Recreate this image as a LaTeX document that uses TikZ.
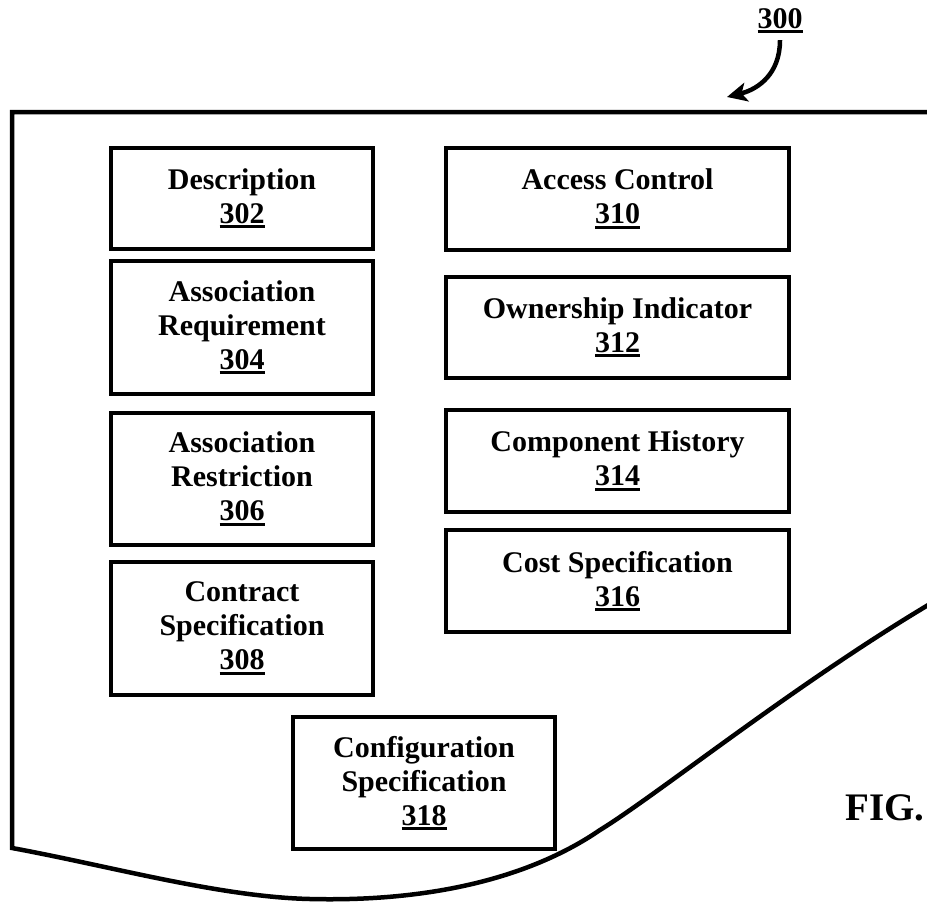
\documentclass[tikz,border=0pt]{standalone}
\usepackage{fontspec}
\setmainfont{Liberation Serif}
\usetikzlibrary{arrows.meta}

% underlined reference numeral
\newcommand{\refno}[1]{\setbox0=\hbox{#1}\rlap{\rule[-5pt]{\wd0}{3pt}}\box0}

\begin{document}
\begin{tikzpicture}[x=1pt, y=-1pt,
  blk/.style={draw, line width=4pt, align=center, inner sep=0pt,
    font=\fontsize{30}{34}\selectfont\bfseries},
  lcol/.style={blk, minimum width=262pt},
  rcol/.style={blk, minimum width=343pt},
  outline/.style={line width=4.5pt, line join=miter},
  refarrow/.style={line width=4.5pt, -{Stealth[length=20pt, width=19pt, inset=5pt]}},
  numlabel/.style={inner sep=0pt, font=\fontsize{30}{34}\selectfont\bfseries},
  figlabel/.style={inner sep=0pt, font=\fontsize{39}{44}\selectfont\bfseries}]

\useasboundingbox (0,0) rectangle (927,902);
\fill[white] (0,0) rectangle (927,902);

% torn-page frame
\draw[outline] (940,112) -- (12,112) -- (12,848)
  .. controls (110,866) and (220,897) .. (310,899)
  .. controls (430,902) and (530,878) .. (600,830)
  .. controls (660,793) and (800,680) .. (940,598);

% left column
\node[lcol, minimum height=101pt] (d302) at (242,198.5) {Description\\\refno{302}};
\node[lcol, minimum height=133pt] (r304) at (242,327.5) {Association\\Requirement\\\refno{304}};
\node[lcol, minimum height=132pt] (s306) at (242,479) {Association\\Restriction\\\refno{306}};
\node[lcol, minimum height=133pt] (c308) at (242,628.5) {Contract\\Specification\\\refno{308}};

% right column
\node[rcol, minimum height=102pt] (a310) at (617.5,199) {Access Control\\\refno{310}};
\node[rcol, minimum height=101pt] (o312) at (617.5,327.5) {Ownership Indicator\\\refno{312}};
\node[rcol, minimum height=102pt] (h314) at (617.5,461) {Component History\\\refno{314}};
\node[rcol, minimum height=102pt] (k316) at (617.5,581) {Cost Specification\\\refno{316}};

% bottom box
\node[lcol, minimum height=132pt] (g318) at (424,783) {Configuration\\Specification\\\refno{318}};

% figure reference
\node[numlabel, anchor=base] (n300) at (780,28) {\refno{300}};
\coordinate (tip) at (727,97);
\draw[refarrow] ([yshift=-7pt]n300.south) .. controls +(0,33) and +(32,-8) .. (tip);

\node[figlabel, anchor=base west] (fig) at (845,820) {FIG.};
\end{tikzpicture}
\end{document}
